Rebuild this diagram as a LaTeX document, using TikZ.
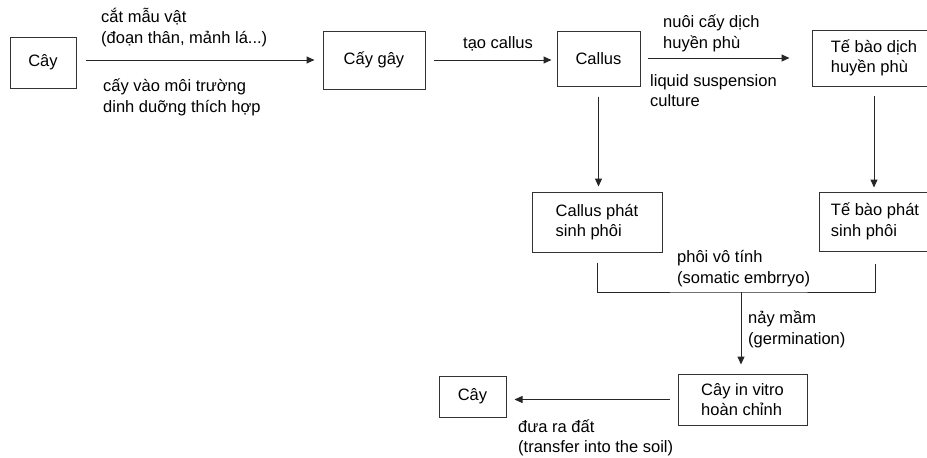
\documentclass[tikz,border=0pt]{standalone}
\usepackage{fontspec}
\setmainfont{Liberation Sans}
\usetikzlibrary{arrows.meta}
\tikzset{
  txt/.style={font=\fontsize{16.5}{20.5}\selectfont, text=black},
  box/.style={txt, draw=black!80, line width=1pt, inner sep=0pt, align=left},
  lbl/.style={txt, anchor=base west, inner sep=0pt},
  conn/.style={draw=black!85, line width=1pt},
  arr/.style={conn, -{Triangle[length=8pt,width=7pt]}}
}
\begin{document}
\begin{tikzpicture}[x=1pt,y=-1pt]
\useasboundingbox (0,0) rectangle (927,458);
\clip (0,0) rectangle (927,458);
\fill[white] (0,0) rectangle (927,458);

% boxes
\node[box, minimum width=66pt, minimum height=51pt] (cay1) at (43,62.5) {Cây};
\node[box, minimum width=102pt, minimum height=58pt] (caygay) at (374,60) {Cấy gây};
\node[box, minimum width=83pt, minimum height=55pt] (callus) at (598.5,58.5) {Callus};
\node[box, minimum width=124pt, minimum height=56pt] (tebao) at (874,58) {Tế bào dịch\\huyền phù};
\node[box, minimum width=130pt, minimum height=60pt] (cpsp) at (597,222) {Callus phát\\sinh phôi};
\node[box, minimum width=112pt, minimum height=59pt] (tbpsp) at (875,221.5) {Tế bào phát\\sinh phôi};
\node[box, minimum width=129pt, minimum height=51pt] (cayiv) at (742.5,399.5) {Cây in vitro\\hoàn chỉnh};
\node[box, minimum width=67pt, minimum height=41pt] (cay2) at (472.5,396.5) {Cây};

% labels
\node[lbl] (l1a) at (101,22) {cắt mẫu vật};
\node[lbl] (l1b) at (101,43.5) {(đoạn thân, mảnh lá...)};
\node[lbl] (l1c) at (103,91.5) {cấy vào môi trường};
\node[lbl] (l1d) at (103,112.5) {dinh duỡng thích hợp};
\node[lbl] (l2) at (463,48) {tạo callus};
\node[lbl] (l3a) at (663,27) {nuôi cấy dịch};
\node[lbl] (l3b) at (663,48) {huyền phù};
\node[lbl] (l3c) at (650,86) {liquid suspension};
\node[lbl] (l3d) at (650,106) {culture};
\node[lbl] (l4a) at (677,262) {phôi vô tính};
\node[lbl] (l4b) at (677,283) {(somatic embrryo)};
\node[lbl] (l5a) at (748,323) {nảy mầm};
\node[lbl] (l5b) at (748,344) {(germination)};
\node[lbl] (l6a) at (518,432) {đưa ra đất};
\node[lbl] (l6b) at (518,452) {(transfer into the soil)};

% connectors
\draw[arr, shorten <=9pt, shorten >=8pt] (cay1.east |- caygay.west) -- (caygay.west);
\draw[arr, shorten <=8pt, shorten >=5pt] (caygay.east) -- (callus.west |- caygay.east);
\draw[arr, shorten <=7pt, shorten >=22pt] (callus.east |- tebao.west) -- (tebao.west);
\draw[arr, shorten <=10pt, shorten >=5pt] (callus.south) -- (callus.south |- cpsp.north);
\draw[arr, shorten <=9pt, shorten >=4pt] (tebao.south) -- (tebao.south |- tbpsp.north);
\coordinate (jn) at (741,292);
\draw[conn] ([yshift=-10pt]cpsp.south) |- (jn) -| ([yshift=-12pt]tbpsp.south);
\draw[arr, shorten >=9pt] (jn) -- (jn |- cayiv.north);
\draw[arr, shorten <=8pt, shorten >=8pt] (cayiv.west) -- (cay2.east |- cayiv.west);
\end{tikzpicture}
\end{document}
